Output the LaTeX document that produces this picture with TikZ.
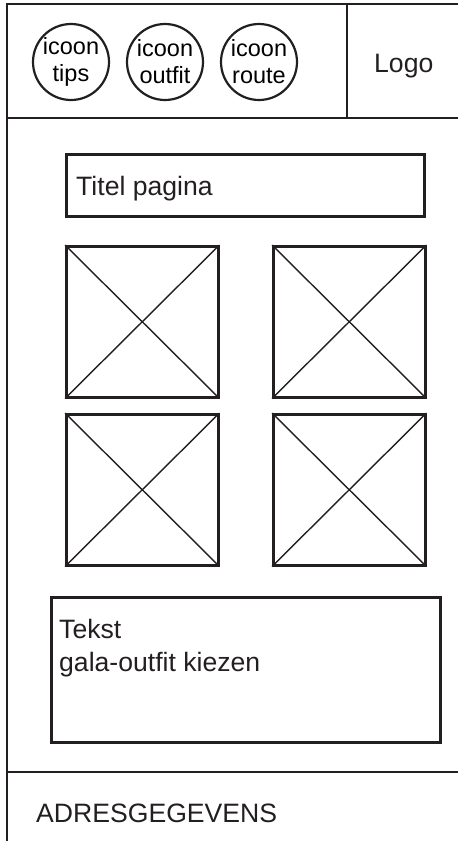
\documentclass[tikz,border=0pt]{standalone}
\usepackage{fontspec}
\setmainfont{Liberation Sans}
\definecolor{wireink}{HTML}{231F20}
\usetikzlibrary{positioning}

\begin{document}
\begin{tikzpicture}[x=1pt,y=-1pt,
  frame/.style={wireink,line width=2.2pt},
  pagebox/.style={draw=wireink,line width=2.5pt,inner sep=0pt},
  cross/.style={wireink,line width=1.4pt},
  iconring/.style={circle,draw=wireink,line width=2.2pt,minimum size=76pt,inner sep=0pt,
    align=center,font=\fontsize{23.5}{27}\selectfont},
  pagetext/.style={wireink,inner sep=0pt,font=\fontsize{26.6}{33}\selectfont}]
  \useasboundingbox (0,0) rectangle (458,841);
  % page frame
  \draw[frame] (458,4) -- (7,4) -- (7,841);
  \draw[frame] (7,118) -- (458,118);
  \draw[frame] (347,4) -- (347,118);
  \draw[frame] (7,772) -- (458,772);
  % header icons
  \node[iconring] (tips) at (71,62) {icoon\\tips};
  \node[iconring] (outfit) at (165,62) {icoon\\outfit};
  \node[iconring] (route) at (259,62) {icoon\\route};
  \node[pagetext,anchor=base west] (logo) at (374,72) {Logo};
  % title
  \node[pagebox,anchor=north west,minimum width=358pt,minimum height=62pt] (title) at (65,153) {};
  \node[pagetext,anchor=base west] (titletext) at (76,195) {Titel pagina};
  % image placeholders
  \foreach \name/\x/\y in {imgA/65/245,imgB/272/245,imgC/65/413,imgD/272/413}{
    \node[pagebox,anchor=north west,minimum width=152pt,minimum height=151pt] (\name) at (\x,\y) {};
    \draw[cross] (\name.north west) -- (\name.south east)
                 (\name.north east) -- (\name.south west);
  }
  % text block
  \node[pagebox,anchor=north west,minimum width=389pt,minimum height=145pt] (textbox) at (50,596) {};
  \node[pagetext,anchor=north west,align=left] (textbody)
    at ([xshift=9pt,yshift=-23pt]textbox.north west) {Tekst\\gala-outfit kiezen};
  % footer
  \node[pagetext,anchor=base west] (address) at (36,822) {ADRESGEGEVENS};
\end{tikzpicture}
\end{document}
